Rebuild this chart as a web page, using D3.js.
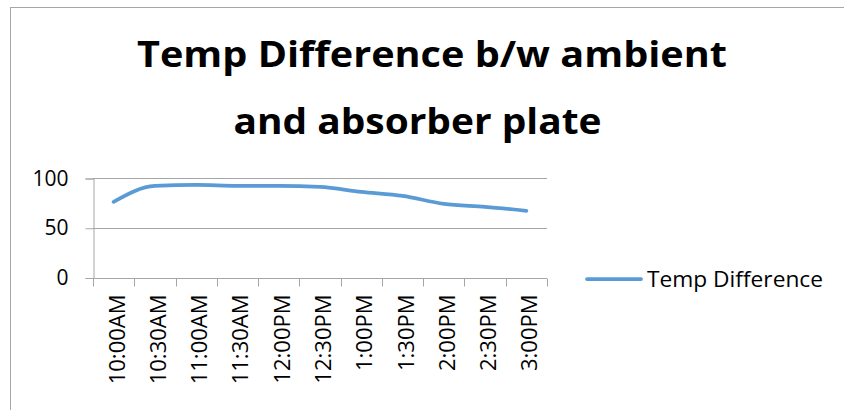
<!DOCTYPE html>
<html>
<head>
<meta charset="utf-8">
<script src="https://cdn.jsdelivr.net/npm/d3@7"></script>
<style>
  html, body { margin: 0; padding: 0; background: #fff; }
  svg { display: block; font-family: "Open Sans", Lato, sans-serif; }
</style>
</head>
<body>
<svg id="chart" width="844" height="410"></svg>
<script>
// Half-hourly readings
const times = ["10:00AM", "10:30AM", "11:00AM", "11:30AM", "12:00PM", "12:30PM",
               "1:00PM", "1:30PM", "2:00PM", "2:30PM", "3:00PM"];
const tempDifference = [76, 92, 93, 92, 92, 91, 86, 82, 74, 71, 67];
const yTicks = [0, 50, 100];
const titleLines = ["Temp Difference b/w ambient", "and absorber plate"];
const seriesName = "Temp Difference";

const svg = d3.select("#chart");
const gridColor = "#a6a6a6";
const lineColor = "#5b9bd5";
const fontFamily = "'Open Sans', Lato, sans-serif";

// Chart frame
svg.append("rect")
  .attr("x", 10.5).attr("y", 7.5)
  .attr("width", 850).attr("height", 420)
  .attr("fill", "#fff").attr("stroke", "#a6a6a6").attr("stroke-width", 1);

// Title, two centred lines in a wide bold face
svg.append("text")
  .attr("x", 432).attr("y", 67)
  .attr("text-anchor", "middle")
  .attr("font-weight", "bold").attr("font-size", 35)
  .attr("textLength", 590).attr("lengthAdjust", "spacingAndGlyphs")
  .attr("fill", "#000")
  .text(titleLines[0]);
svg.append("text")
  .attr("x", 417.5).attr("y", 134)
  .attr("text-anchor", "middle")
  .attr("font-weight", "bold").attr("font-size", 35)
  .attr("textLength", 368).attr("lengthAdjust", "spacingAndGlyphs")
  .attr("fill", "#000")
  .text(titleLines[1]);

// Plot area
const plot = { left: 93, right: 547, top: 178, bottom: 277.5 };

const x = d3.scaleBand().domain(times).range([plot.left, plot.right]).padding(0);
const y = d3.scaleLinear().domain([0, 100]).range([plot.bottom, plot.top]);

// Horizontal gridlines
svg.append("g")
  .selectAll("line")
  .data(yTicks.filter(d => d !== 0))
  .join("line")
  .attr("x1", plot.left).attr("x2", plot.right)
  .attr("y1", d => Math.round(y(d)) + 0.5).attr("y2", d => Math.round(y(d)) + 0.5)
  .attr("stroke", gridColor).attr("stroke-width", 1);

// Y axis
const yAxis = svg.append("g")
  .attr("transform", `translate(${plot.left + 0.5},0.5)`)
  .call(d3.axisLeft(y).tickValues(yTicks).tickSize(8).tickPadding(17).tickFormat(d3.format("d")));
yAxis.select(".domain").attr("stroke", gridColor);
yAxis.selectAll(".tick line").attr("stroke", gridColor);
yAxis.selectAll(".tick text")
  .attr("font-family", fontFamily)
  .attr("font-size", 21).attr("fill", "#000");

// X axis with ticks at category boundaries
const xAxisG = svg.append("g").attr("transform", `translate(0,${Math.round(plot.bottom) + 0.5})`);
xAxisG.append("line")
  .attr("x1", plot.left).attr("x2", plot.right)
  .attr("stroke", gridColor);
const boundaries = times.map(t => x(t)).concat([x(times[times.length - 1]) + x.bandwidth()]);
xAxisG.selectAll("line.tick")
  .data(boundaries)
  .join("line")
  .attr("class", "tick")
  .attr("x1", d => Math.round(d) + 0.5).attr("x2", d => Math.round(d) + 0.5)
  .attr("y1", 0).attr("y2", 8)
  .attr("stroke", gridColor);
xAxisG.selectAll("text")
  .data(times)
  .join("text")
  .attr("transform", d => `translate(${x(d) + x.bandwidth() / 2},16) rotate(-90)`)
  .attr("text-anchor", "end")
  .attr("dy", "0.5em")
  .attr("font-size", 22)
  .attr("fill", "#000")
  .text(d => d);

// Series line
const line = d3.line()
  .x((d, i) => x(times[i]) + x.bandwidth() / 2)
  .y(d => y(d))
  .curve(d3.curveMonotoneX);
svg.append("path")
  .datum(tempDifference)
  .attr("d", line)
  .attr("fill", "none")
  .attr("stroke", lineColor)
  .attr("stroke-width", 3.75)
  .attr("stroke-linecap", "round")
  .attr("stroke-linejoin", "round");

// Legend
const legend = svg.append("g").attr("transform", "translate(587,279)");
legend.append("line")
  .attr("x1", 0).attr("x2", 54)
  .attr("stroke", lineColor).attr("stroke-width", 3.75).attr("stroke-linecap", "round");
legend.append("text")
  .attr("x", 60).attr("dy", "0.35em")
  .attr("font-size", 22).attr("fill", "#000")
  .attr("textLength", 176).attr("lengthAdjust", "spacingAndGlyphs")
  .text(seriesName);
</script>
</body>
</html>
